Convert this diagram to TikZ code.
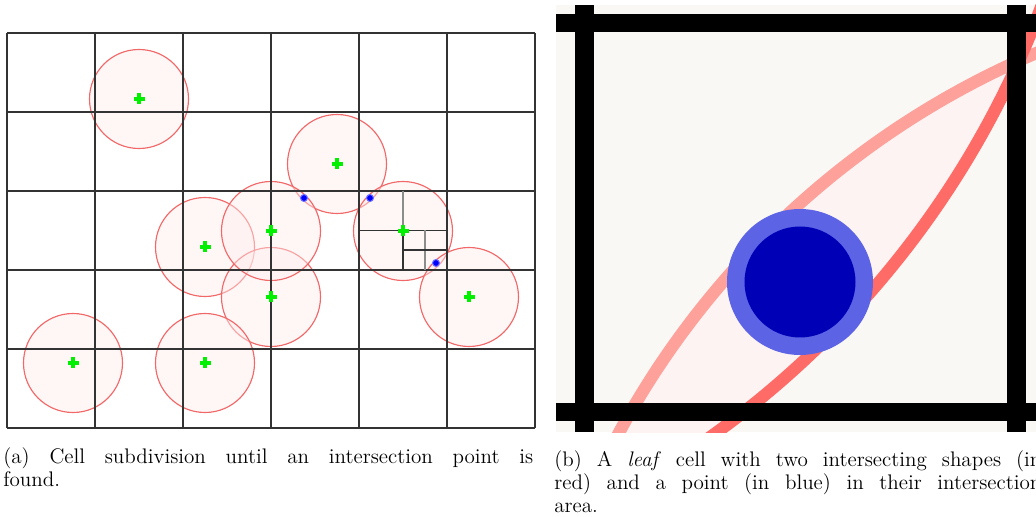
\documentclass[tikz,border=0pt]{standalone}
\usepackage{tikz}
\definecolor{bordeforma}{RGB}{242,104,104}
\definecolor{rellenoforma}{RGB}{255,236,236}
\definecolor{fondocelda}{RGB}{250,248,245}
\definecolor{lente}{RGB}{253,243,243}
\definecolor{rojoclaro}{RGB}{255,161,155}
\definecolor{rojofuerte}{RGB}{255,107,102}
\definecolor{azulanillo}{RGB}{92,99,229}
\definecolor{azulpunto}{RGB}{0,0,183}
\definecolor{verdecentro}{RGB}{0,240,0}
\tolerance=10000
\hbadness=10000
\begin{document}
\begin{tikzpicture}[
    x=0.02cm,
    y=-0.02cm,
    font=\fontsize{12}{13.3}\selectfont,
    rejilla/.style={black!80,line width=0.85pt},
    subdivgris/.style={black!45,line width=0.85pt},
    forma/.style={draw=bordeforma,line width=0.65pt,fill=rellenoforma,fill opacity=0.45},
    centro/.style={verdecentro,line width=2pt},
    punto/.style={fill=blue,draw=blue!55,line width=0.6pt},
    barra/.style={black,line width=10.5pt},
    leyenda/.style={anchor=base west,inner sep=0pt,align=justify}
]
    \useasboundingbox (0,0) rectangle (1036,517);
    \clip (0,0) rectangle (1036,517);

    \foreach \px/\py in {139/99,337/164,205/247,271/297,271/231,403/231,469/297,73/363,205/363}
        \draw[forma] (\px,\py) circle[radius=49.5];

    \foreach \c in {0,...,6}
        \draw[rejilla] (7+88*\c,33) -- (7+88*\c,428);
    \foreach \f in {0,...,5}
        \draw[rejilla] (7,33+79*\f) -- (535,33+79*\f);

    \draw[subdivgris] (403,191) -- (403,230.5);
    \draw[rejilla] (403,230.5) -- (403,270);
    \draw[rejilla] (359,230.5) -- (447,230.5);
    \draw[subdivgris] (425,230.5) -- (425,270);
    \draw[rejilla] (403,250) -- (447,250);

    \foreach \px/\py in {139/99,337/164,205/247,271/297,271/231,403/231,469/297,73/363,205/363}
        \draw[centro] (\px-5.5,\py) -- (\px+5.5,\py) (\px,\py-5.5) -- (\px,\py+5.5);
    \foreach \px/\py in {304/198,370/198,436/263}
        \draw[punto] (\px,\py) circle[radius=3.5];

    \begin{scope}
        \clip (556,5) rectangle (1040,432);
        \fill[fondocelda] (556,5) rectangle (1040,432);
        \begin{scope}
            \clip (1368,837) circle[radius=851];
            \fill[lente] (172,-319) circle[radius=928];
        \end{scope}
        \draw[rojoclaro,line width=7pt] (1368,837) circle[radius=851];
        \draw[rojofuerte,line width=7pt] (172,-319) circle[radius=928];
        \fill[azulanillo] (800,282) circle[radius=73];
        \fill[azulpunto] (800,282) circle[radius=55.5];
        \draw[barra] (556,23) -- (1040,23);
        \draw[barra] (556,412) -- (1040,412);
        \draw[barra] (584.5,5) -- (584.5,432);
        \draw[barra] (1016.5,5) -- (1016.5,432);
    \end{scope}

    \node[leyenda,text width=301.6pt] (leyendaA) at (3,463)
        {(a) Cell subdivision until an intersection point is\linebreak found.};
    \node[leyenda,text width=277.2pt] (leyendaB) at (554,466)
        {(b) A \emph{leaf} cell with two intersecting shapes (in\linebreak red) and a point (in blue) in their intersection\linebreak area.};
\end{tikzpicture}
\end{document}
